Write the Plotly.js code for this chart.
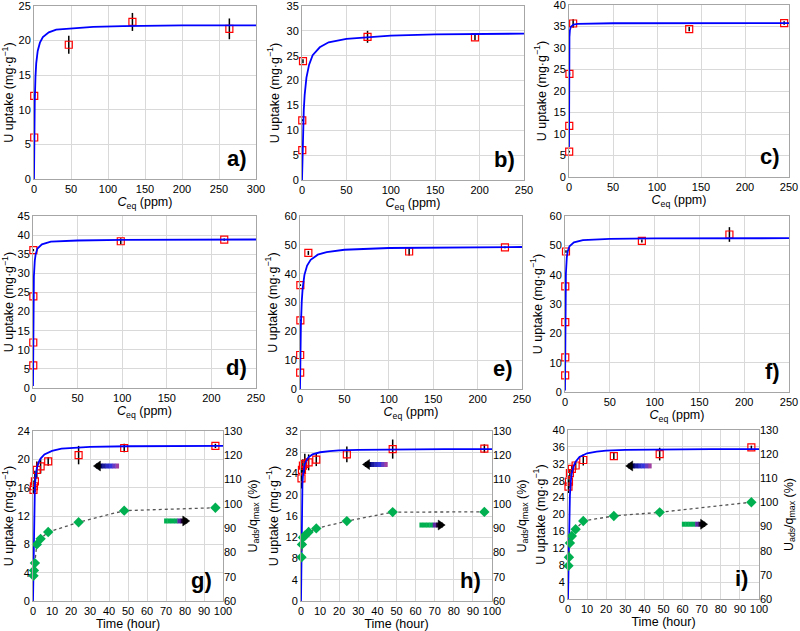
<!DOCTYPE html>
<html>
<head>
<meta charset="utf-8">
<script src="https://cdn.plot.ly/plotly-3.0.1.min.js"></script>
<style>html,body{margin:0;padding:0;background:#fff;}#plot{width:800px;height:631px;}</style>
</head>
<body>
<div id="plot"></div>
<script>
// ---------- Isotherm data (panels a-f) ----------
const aC = [0.3, 0.3, 47, 133, 264];
const aQ = [6, 12, 19.4, 22.7, 21.7];
const aErr = [0.2, 0.2, 1.3, 1.3, 1.5];
const aFitC = [0, 0.2, 0.5, 1, 2, 3, 5, 8, 12, 20, 30, 50, 80, 120, 200, 300];
const aFitQ = [0, 3.7, 7.4, 11.1, 14.8, 16.7, 18.5, 19.7, 20.5, 21.2, 21.6, 21.8, 22.0, 22.1, 22.2, 22.2];

const bC = [0.3, 0.3, 1.1, 73.8, 194.8];
const bQ = [6, 12, 23.9, 28.8, 28.7];
const bErr = [0.2, 0.2, 0.4, 1.2, 0.6];
const bFitC = [0, 0.5, 1, 2, 3, 5, 8, 12, 20, 30, 50, 75, 100, 150, 200, 250];
const bFitQ = [0, 5.5, 9.2, 14.1, 17.1, 20.6, 23.2, 25.1, 26.7, 27.7, 28.4, 28.8, 29.05, 29.3, 29.4, 29.45];

const cC = [0.2, 0.3, 0.5, 4.7, 136.6, 244.5];
const cQ = [5.9, 11.9, 24.0, 35.7, 34.4, 35.8];
const cErr = [0.2, 0.2, 0.3, 1.0, 0.5, 0.4];
const cFitC = [0.01, 0.02, 0.05, 0.1, 0.2, 0.5, 1, 2, 5, 10, 50, 100, 250];
const cFitQ = [7, 10.2, 17.9, 23.9, 28.6, 32.5, 34.1, 34.9, 35.45, 35.6, 35.76, 35.78, 35.79];

const dC = [0.3, 0.3, 0.4, 0.4, 98.4, 214.4];
const dQ = [5.9, 11.9, 24.0, 36.1, 38.4, 38.8];
const dErr = [0.2, 0.2, 0.3, 0.3, 0.8, 0.3];
const dFitC = [0, 0.05, 0.1, 0.2, 0.5, 1, 2, 3, 5, 10, 20, 50, 100, 250];
const dFitQ = [0.5, 5.1, 9.0, 14.6, 23.3, 29.2, 33.3, 35.0, 36.5, 37.6, 38.3, 38.6, 38.77, 38.85];

const eC = [0.2, 0.2, 0.4, 0.4, 9.4, 122.9, 230.8];
const eQ = [5.7, 11.8, 23.8, 36.0, 47.2, 47.7, 49.1];
const eErr = [0.3, 0.3, 0.3, 0.3, 0.7, 1.4, 0.3];
const eFitC = [0, 0.1, 0.2, 0.5, 1, 2, 3, 5, 8, 12, 20, 30, 50, 100, 150, 250];
const eFitQ = [0, 3.7, 6.8, 14.1, 22.0, 30.5, 34.9, 39.6, 42.8, 44.8, 46.6, 47.5, 48.3, 48.9, 49.1, 49.25];

const fC = [0.2, 0.3, 0.3, 0.3, 1.1, 85.8, 183.5];
const fQ = [5.7, 11.8, 23.8, 36.0, 47.9, 51.5, 53.7];
const fErr = [0.3, 0.3, 0.3, 0.3, 0.4, 0.5, 2.5];
const fFitC = [0, 0.05, 0.1, 0.2, 0.5, 1, 2, 3, 5, 10, 20, 50, 100, 250];
const fFitQ = [0.5, 7.8, 13.6, 21.6, 33.4, 40.4, 45.9, 47.9, 49.7, 51.0, 51.8, 52.2, 52.35, 52.44];

// ---------- Kinetics data (panels g-i) ----------
const timeH = [0.25, 0.5, 1, 2, 4, 8, 24, 48, 96];

const gQ = [15.7, 16.2, 16.9, 18.5, 19.0, 19.7, 20.6, 21.6, 21.9];
const gErr = [0.5, 0.8, 1.5, 1.2, 1.0, 0.6, 1.3, 0.6, 0.3];
const gPct = [70.4, 72.6, 75.6, 83.3, 85.6, 88.4, 92.4, 97.2, 98.4];
const gFitT = [0, 0.1, 0.2, 0.35, 0.5, 0.75, 1, 1.5, 2, 3, 4, 6, 8, 10, 15, 20, 30, 50, 75, 100];
const gFitQ = [0, 2.5, 5, 9, 12, 14.8, 16.3, 17.8, 18.7, 19.6, 20.1, 20.7, 21.0, 21.2, 21.5, 21.6, 21.75, 21.85, 21.9, 21.9];

const hQ = [23.1, 24.7, 25.5, 25.8, 26.1, 26.6, 27.6, 28.6, 28.7];
const hErr = [1.9, 0.8, 1.2, 1.9, 1.5, 1.2, 1.5, 1.8, 0.8];
const hPct = [78.0, 83.3, 86.2, 86.9, 88.4, 89.9, 92.9, 96.6, 96.7];
const hFitT = [0, 0.1, 0.25, 0.5, 0.75, 1, 1.5, 2, 3, 4, 6, 8, 10, 15, 20, 30, 50, 75, 100];
const hFitQ = [0, 6, 13, 19, 22, 23.5, 25, 25.8, 26.6, 27.1, 27.6, 27.8, 28.0, 28.2, 28.35, 28.45, 28.55, 28.6, 28.6];

const iQ = [26.6, 27.8, 29.8, 30.8, 31.6, 32.9, 33.8, 34.3, 35.9];
const iErr = [1.5, 1.5, 1.0, 0.8, 1.0, 1.3, 0.8, 1.5, 0.4];
const iPct = [73.8, 77.3, 83.2, 86.1, 88.9, 92.3, 94.4, 95.9, 100.1];
const iFitT = [0, 0.1, 0.25, 0.5, 0.75, 1, 1.5, 2, 3, 4, 6, 8, 10, 15, 20, 30, 50, 75, 100];
const iFitQ = [0, 4, 9, 16, 21, 24.5, 28, 29.8, 31.5, 32.5, 33.6, 34.1, 34.5, 34.9, 35.1, 35.3, 35.45, 35.5, 35.5];

// ---------- Tick settings ----------
const isoXMax = [300, 250, 250, 250, 250, 250];
const isoYMax = [25, 35, 40, 45, 60, 60];
const isoYStep = [5, 5, 5, 5, 10, 10];
const kinYMax = [24, 32, 40];
const pctRange = [60, 130];
const panelLabels = ['a)', 'b)', 'c)', 'd)', 'e)', 'f)', 'g)', 'h)', 'i)'];

// ---------- build ----------
const FONT = 'Liberation Sans, Arial, sans-serif';
const RED = '#ff0000', BLUE = '#0000ff', GREEN = '#00b050';

function ax(k, letter) { return k === 1 ? letter : letter + k; }
function lk(k, letter) { return k === 1 ? letter + 'axis' : letter + 'axis' + k; }

const traces = [];
const isoSets = [
  [aC, aQ, aErr, aFitC, aFitQ],
  [bC, bQ, bErr, bFitC, bFitQ],
  [cC, cQ, cErr, cFitC, cFitQ],
  [dC, dQ, dErr, dFitC, dFitQ],
  [eC, eQ, eErr, eFitC, eFitQ],
  [fC, fQ, fErr, fFitC, fFitQ]
];
isoSets.forEach((s, i) => {
  const k = i + 1;
  traces.push({
    x: s[0], y: s[1], xaxis: ax(k, 'x'), yaxis: ax(k, 'y'), type: 'scatter', mode: 'markers',
    marker: { symbol: 'square-open', size: 7, color: RED, line: { width: 1.2, color: RED } },
    error_y: { type: 'data', array: s[2], visible: true, color: '#000', thickness: 1.5, width: 0 },
    cliponaxis: false, showlegend: false
  });
  traces.push({
    x: s[3], y: s[4], xaxis: ax(k, 'x'), yaxis: ax(k, 'y'), type: 'scatter', mode: 'lines',
    line: { color: BLUE, width: 1.8 }, showlegend: false
  });
});

const kinSets = [
  [gQ, gErr, gPct, gFitT, gFitQ],
  [hQ, hErr, hPct, hFitT, hFitQ],
  [iQ, iErr, iPct, iFitT, iFitQ]
];
kinSets.forEach((s, i) => {
  const k = 7 + i, kr = 10 + i;
  traces.push({
    x: timeH, y: s[2], xaxis: ax(k, 'x'), yaxis: ax(kr, 'y'), type: 'scatter', mode: 'lines+markers',
    line: { color: '#555', width: 1.3, dash: 'dot' },
    marker: { symbol: 'diamond', size: 8, color: GREEN },
    cliponaxis: false, showlegend: false
  });
  traces.push({
    x: timeH, y: s[0], xaxis: ax(k, 'x'), yaxis: ax(k, 'y'), type: 'scatter', mode: 'markers',
    marker: { symbol: 'square-open', size: 7, color: RED, line: { width: 1.2, color: RED } },
    error_y: { type: 'data', array: s[1], visible: true, color: '#000', thickness: 1.5, width: 0 },
    cliponaxis: false, showlegend: false
  });
  traces.push({
    x: s[3], y: s[4], xaxis: ax(k, 'x'), yaxis: ax(k, 'y'), type: 'scatter', mode: 'lines',
    line: { color: BLUE, width: 1.8 }, showlegend: false
  });
});

const W = 800, H = 631;
// plot-area pixel boxes [left, right, top, bottom]
const boxes = [
  [34, 256, 6, 179], [302, 524, 6, 180], [569, 789, 5, 177],
  [33, 256, 216, 388], [300, 522, 216, 389], [565, 789, 216, 392],
  [33, 223, 431, 601], [301, 492, 431, 601], [568, 759, 430, 599]
];

const base = {
  showgrid: true, gridcolor: '#d9d9d9', gridwidth: 1,
  showline: true, linecolor: '#a6a6a6', linewidth: 1, mirror: true,
  zeroline: false, ticks: '', automargin: false, fixedrange: true,
  ticklabeloverflow: 'allow',
  tickfont: { family: FONT, size: 11, color: '#000' }
};
const titleFont = { family: FONT, size: 12.5, color: '#000' };

const layout = {
  width: W, height: H, margin: { l: 0, r: 0, t: 0, b: 0 },
  paper_bgcolor: '#fff', plot_bgcolor: '#fff', showlegend: false,
  font: { family: FONT, color: '#000' },
  annotations: [], shapes: []
};

boxes.forEach((b, i) => {
  const k = i + 1;
  const xd = [b[0] / W, b[1] / W];
  const yd = [1 - b[3] / H, 1 - b[2] / H];
  const isIso = i < 6;
  const yTop = isIso ? isoYMax[i] : kinYMax[i - 6];
  layout[lk(k, 'x')] = Object.assign({}, base, {
    domain: xd, anchor: ax(k, 'y'),
    range: [0, isIso ? isoXMax[i] : 100], dtick: isIso ? 50 : 10,
    title: { text: isIso ? '<i>C</i><sub>eq</sub> (ppm)' : 'Time (hour)', font: titleFont, standoff: 2 }
  });
  layout[lk(k, 'y')] = Object.assign({}, base, {
    domain: yd, anchor: ax(k, 'x'),
    range: [0, yTop * 1.0001], tick0: 0, dtick: isIso ? isoYStep[i] : 4,
    title: { text: 'U uptake (mg·g<sup>−1</sup>)', font: titleFont, standoff: 4 }
  });
  layout.annotations.push({
    text: '<b>' + panelLabels[i] + '</b>', showarrow: false,
    xref: ax(k, 'x') + ' domain', yref: ax(k, 'y') + ' domain',
    x: isIso ? 0.97 : 0.955, y: 0.035, xanchor: 'right', yanchor: 'bottom',
    font: { family: FONT, size: 22, color: '#000' }
  });
  if (!isIso) {
    const kr = k + 3;
    layout[lk(kr, 'y')] = Object.assign({}, base, {
      overlaying: ax(k, 'y'), anchor: ax(k, 'x'), side: 'right',
      showgrid: false, showline: false,
      range: [pctRange[0], pctRange[1] + 0.005], tick0: 60, dtick: 10,
      title: { text: 'U<sub>ads</sub>/q<sub>max</sub> (%)', font: titleFont, standoff: 6 }
    });
  }
});

// ---------- gradient arrows ----------
function arrow(k, xTail, xTip, y, colors) {
  const xr = ax(k, 'x'), yr = ax(k, 'y');
  const n = colors.length;
  const dir = xTip > xTail ? 1 : -1;
  const headLen = (xTip - xTail) * 0.16;
  const bodyEnd = xTip - headLen * 0.6;
  for (let j = 0; j < n; j++) {
    const x0 = xTail + (bodyEnd - xTail) * j / n;
    const x1 = xTail + (bodyEnd - xTail) * (j + 1) / n + (j < n - 1 ? 0.2 * dir : 0);
    layout.shapes.push({
      type: 'line', xref: xr, yref: yr, x0: x0, x1: x1, y0: y, y1: y,
      line: { color: colors[j], width: 5 }, layer: 'above'
    });
  }
  const p = dir > 0 ? 'M0,0 L-7,5 L-7,-5 Z' : 'M0,0 L7,5 L7,-5 Z';
  layout.shapes.push({
    type: 'path', xref: xr, yref: yr, xsizemode: 'pixel', ysizemode: 'pixel',
    xanchor: xTip, yanchor: y, path: p,
    fillcolor: '#000', line: { color: '#000', width: 0.5 }, layer: 'above'
  });
}
const blueGrad = ['#a040a0', '#6a3ac0', '#3535dd', '#2a2ac8', '#1a1aa0', '#00006e', '#000030'];
const greenGrad = ['#00b050', '#00b050', '#00b050', '#05a858', '#5a2aa0', '#1a0030', '#000000'];
arrow(7, 45.3, 31.8, 19.06, blueGrad);
arrow(7, 69.0, 82.5, 11.3, greenGrad);
arrow(8, 45.4, 32.2, 25.7, blueGrad);
arrow(8, 62.0, 75.5, 14.3, greenGrad);
arrow(9, 43.8, 30.2, 31.5, blueGrad);
arrow(9, 59.6, 73.1, 17.7, greenGrad);

Plotly.newPlot('plot', traces, layout, { staticPlot: true, displayModeBar: false });
</script>
</body>
</html>
